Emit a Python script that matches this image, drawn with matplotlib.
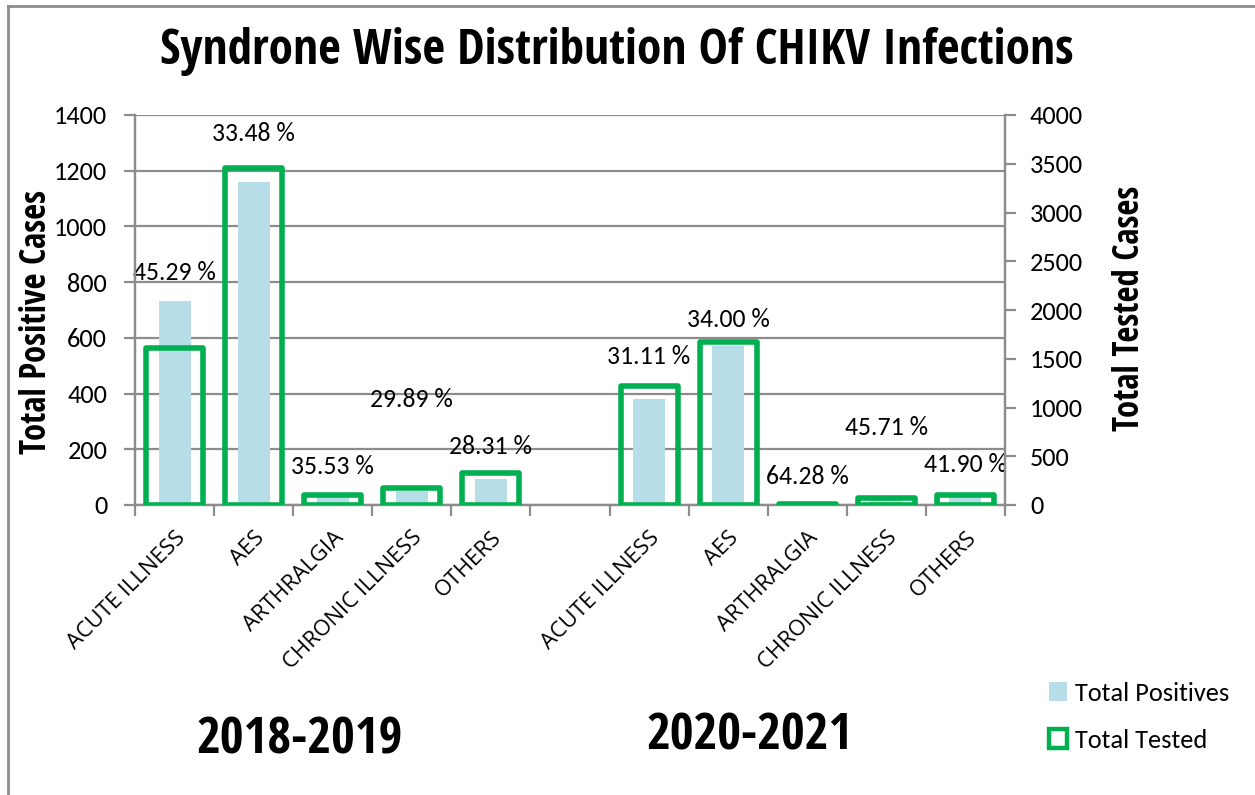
import matplotlib
matplotlib.use("Agg")
import matplotlib.pyplot as plt
from matplotlib.patches import Patch
from matplotlib.lines import Line2D
from matplotlib import font_manager as fm
import numpy as np

# ---- data ----
categories = ["ACUTE ILLNESS", "AES", "ARTHRALGIA", "CHRONIC ILLNESS", "OTHERS",
              "",
              "ACUTE ILLNESS", "AES", "ARTHRALGIA", "CHRONIC ILLNESS", "OTHERS"]
total_positives = [731, 1158, 38, 52, 92, None, 381, 570, 9, 32, 44]
total_tested = [1614, 3459, 107, 174, 325, None, 1225, 1676, 14, 70, 105]
pct_labels = ["45.29 %", "33.48 %", "35.53 %", "29.89 %", "28.31 %", "",
              "31.11 %", "34.00 %", "64.28 %", "45.71 %", "41.90 %"]
# label heights (left-axis units) as placed in the reference
pct_label_y = [835, 1335, 140, 378, 209, None, 533, 666, 101, 277, 144]
period_labels = ["2018-2019", "2020-2021"]
left_ticks = [0, 200, 400, 600, 800, 1000, 1200, 1400]
right_ticks = [0, 500, 1000, 1500, 2000, 2500, 3000, 3500, 4000]

# ---- fonts ----
installed = {f.name for f in fm.fontManager.ttflist}

def pick(cands):
    for c in cands:
        if c in installed:
            return c
    return "DejaVu Sans"

BOLD_NARROW = [pick(["Open Sans Condensed", "IBM Plex Sans Condensed", "Roboto Condensed"]), "DejaVu Sans"]
NUM = pick(["Carlito", "Calibri"])
if NUM == "DejaVu Sans":
    NUM = pick(["Roboto", "Open Sans"])
    num_scale = 0.86
else:
    num_scale = 1.0
NUM_FONT = [NUM, "DejaVu Sans"]
TICK_FONT = [pick(["Open Sans", "Noto Sans"]), "DejaVu Sans"]

GRAY = "#8c8c8c"
BLUE = "#B7DDE8"
GREEN = "#00B050"

fig = plt.figure(figsize=(12.55, 7.95), dpi=100)
ax = fig.add_axes([135/1255, 1-505/795, (1005-135)/1255, (505-115)/795])
ax2 = ax.twinx()

x = np.arange(len(categories))
pos_x = [xi for xi, v in zip(x, total_positives) if v is not None]
pos_v = [v for v in total_positives if v is not None]
tst_v = [v for v in total_tested if v is not None]

ax.bar(pos_x, pos_v, width=0.405, color=BLUE, zorder=2)
ax2.bar(pos_x, tst_v, width=0.72, facecolor="none", edgecolor=GREEN,
        linewidth=4.0, zorder=3, joinstyle="round")

ax.set_ylim(0, 1400)
ax2.set_ylim(0, 4000)
ax.set_xlim(-0.5, len(categories) - 0.5)
ax.set_yticks(left_ticks)
ax2.set_yticks(right_ticks)

ax.grid(axis="y", color=GRAY, linewidth=1.6, zorder=0)
ax.set_axisbelow(True)

for a in (ax, ax2):
    for s in a.spines.values():
        s.set_color(GRAY)
        s.set_linewidth(1.6)
ax.spines["top"].set_visible(False)
ax2.spines["top"].set_visible(False)

# x ticks at boundaries, labels at centers
ax.set_xticks(np.arange(-0.5, len(categories), 1.0))
ax.set_xticklabels([])
ax.set_xticks(x, minor=True)
ax.set_xticklabels(categories, minor=True, rotation=45, ha="right", va="top",
                   rotation_mode="anchor", fontsize=16, family=TICK_FONT)
ax.tick_params(axis="x", which="major", length=8, color=GRAY, width=1.6, direction="out")
ax.tick_params(axis="x", which="minor", length=0, pad=16)
ax.tick_params(axis="y", length=8, color=GRAY, width=1.6, labelsize=19*num_scale, pad=12)
ax2.tick_params(axis="y", length=8, color=GRAY, width=1.6, labelsize=19*num_scale, pad=10)
for lab in ax.get_yticklabels() + ax2.get_yticklabels():
    lab.set_family(NUM_FONT)

# percentage labels
for xi, txt, yy in zip(x, pct_labels, pct_label_y):
    if yy is None:
        continue
    ax.text(xi, yy, txt, ha="center", va="center", fontsize=18.5*num_scale,
            family=NUM_FONT, zorder=5, clip_on=False)

ax.set_ylabel("Total Positive Cases", fontsize=25, fontweight="bold",
              family=BOLD_NARROW)
ax2.set_ylabel("Total Tested Cases", fontsize=25, fontweight="bold",
               family=BOLD_NARROW)
ax.yaxis.set_label_coords((55-135)/870, (505-322)/390)
ax2.yaxis.set_label_coords((1112-135)/870, (505-308)/390)

fig.text(617/1255, 1-52/795, "Syndrone Wise Distribution Of CHIKV Infections",
         ha="center", va="center", fontsize=35.5, fontweight="bold", family=BOLD_NARROW)

fig.text(300/1255, 1-740/795, period_labels[0], ha="center", va="center",
         fontsize=37, fontweight="bold", family=BOLD_NARROW)
fig.text(750/1255, 1-737/795, period_labels[1], ha="center", va="center",
         fontsize=37, fontweight="bold", family=BOLD_NARROW)

handles = [Patch(facecolor=BLUE, edgecolor="none"),
           Patch(facecolor="white", edgecolor=GREEN, linewidth=3.2)]
fig.legend(handles, ["Total Positives", "Total Tested"], loc="upper left",
           bbox_to_anchor=(1025/1255, 1-658/795), frameon=False,
           handlelength=0.7, handleheight=0.7, handletextpad=0.3,
           labelspacing=0.9, prop={"family": NUM_FONT, "size": 19*num_scale})

# figure frame (top and left visible)
fig.add_artist(Line2D([8/1255, 1], [1-6/795, 1-6/795], color=GRAY, linewidth=2,
                      transform=fig.transFigure))
fig.add_artist(Line2D([8/1255, 8/1255], [0, 1-6/795], color=GRAY, linewidth=2,
                      transform=fig.transFigure))

fig.savefig("out.png", dpi=100)
